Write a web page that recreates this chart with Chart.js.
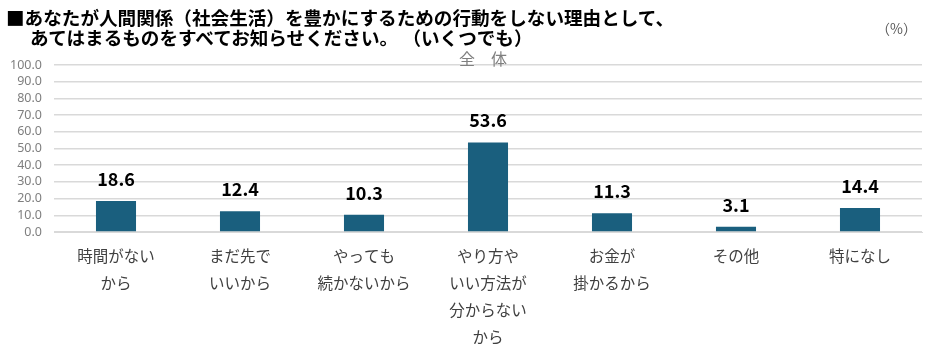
<!DOCTYPE html>
<html><head><meta charset="utf-8">
<script src="https://cdn.jsdelivr.net/npm/chart.js@4"></script>
<style>
html,body{margin:0;padding:0;background:#fff;}
#wrap{position:relative;width:936px;height:357px;overflow:hidden;font-family:"Noto Sans CJK JP","Noto Sans",sans-serif;}
canvas{position:absolute;left:0;top:0;}
.t{position:absolute;white-space:nowrap;}
#title1{left:6px;top:3px;font-size:18.6px;font-weight:bold;color:#000;}
#title2{left:30px;top:23px;font-size:18.6px;font-weight:bold;color:#000;}
#unit{left:876px;top:18px;font-size:14px;color:#595959;}
#sub{left:459px;top:46px;font-size:16px;color:#7f7f7f;letter-spacing:0px;}
</style></head><body>
<div id="wrap">
<canvas id="c" width="936" height="357"></canvas>
<div class="t" id="title1">■あなたが人間関係（社会生活）を豊かにするための行動をしない理由として、</div>
<div class="t" id="title2">あてはまるものをすべてお知らせください。&nbsp;（いくつでも）</div>
<div class="t" id="unit">（%）</div>
<div class="t" id="sub">全　体</div>
</div>
<script>
const categories = [
  ["時間がない","から"],
  ["まだ先で","いいから"],
  ["やっても","続かないから"],
  ["やり方や","いい方法が","分からない","から"],
  ["お金が","掛かるから"],
  ["その他"],
  ["特になし"]
];
const values = [18.6, 12.4, 10.3, 53.6, 11.3, 3.1, 14.4];
const yTicks = [0,10,20,30,40,50,60,70,80,90,100];

const labelPlugin = {
  id:'valLabels',
  afterDatasetsDraw(chart){
    const ctx = chart.ctx;
    const meta = chart.getDatasetMeta(0);
    ctx.save();
    ctx.font = 'bold 18px "Noto Sans CJK JP","Noto Sans",sans-serif';
    ctx.fillStyle = '#000';
    ctx.textAlign = 'center';
    ctx.textBaseline = 'bottom';
    meta.data.forEach((bar,i)=>{
      ctx.fillText(values[i].toFixed(1), bar.x, bar.y - 13);
    });
    ctx.restore();
  }
};

new Chart(document.getElementById('c'),{
  type:'bar',
  data:{labels:categories,datasets:[{data:values,backgroundColor:'#1a5f7e',barPercentage:0.34,categoryPercentage:0.95}]},
  options:{
    responsive:false,animation:false,
    layout:{padding:{left:0,right:14,top:65,bottom:0}},
    plugins:{legend:{display:false},tooltip:{enabled:false},title:{display:false}},
    scales:{
      x:{
        grid:{display:false,drawTicks:false},
        border:{display:true,color:'#d9d9d9'},
        ticks:{color:'#404040',font:{size:15.5,family:'"Noto Sans CJK JP",sans-serif',lineHeight:1.76},padding:10,maxRotation:0,autoSkip:false},
        afterFit(s){s.height=125;}
      },
      y:{
        min:0,max:100,
        afterBuildTicks(s){s.ticks=yTicks.map(v=>({value:v}));},
        grid:{color:'#d9d9d9',drawTicks:false,lineWidth:1.5},
        border:{display:false},
        ticks:{color:'#7f7f7f',font:{size:12.5,family:'"Noto Sans","Noto Sans CJK JP",sans-serif'},padding:12,autoSkip:false,callback:v=>v.toFixed(1)},
        afterFit(s){s.width=54;}
      }
    }
  },
  plugins:[labelPlugin]
});
</script>
</body></html>
